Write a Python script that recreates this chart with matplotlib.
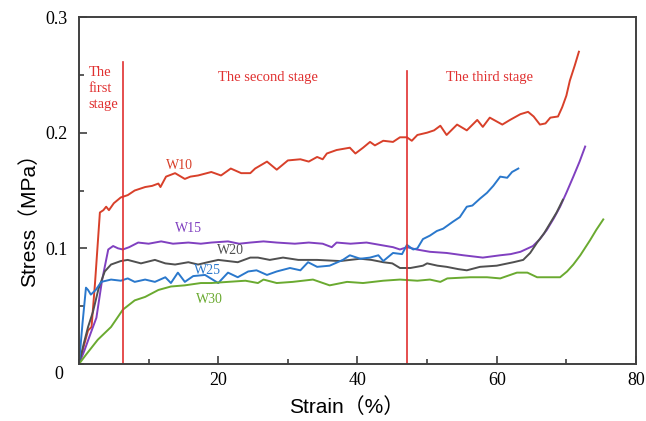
import matplotlib.pyplot as plt
from matplotlib.ticker import MultipleLocator

# strain (%) / stress (MPa)
w10_x = [0, 0.8, 1.3, 1.8, 2.3, 3.0, 3.5, 3.9, 4.3, 5.0, 6.0, 7.0, 8.0, 9.5, 10.5, 11.4, 11.7, 12.5,
         13.8, 15.2, 16.0, 17.1, 19.0, 20.4, 21.8, 23.3, 24.6, 25.3, 27.0, 28.4, 30.0, 31.8, 33.0,
         34.2, 35.0, 35.6, 37.0, 38.9, 39.7, 40.8, 41.8, 42.5, 43.7, 45.1, 46.1, 47.1, 47.8, 48.6,
         50.0, 51.0, 51.9, 52.8, 54.3, 55.7, 57.2, 58.0, 59.0, 60.8, 61.9, 63.4, 64.5, 65.3, 66.2,
         67.0, 67.7, 68.8, 69.4, 70.0, 70.5, 71.2, 71.8]
w10_y = [0, 0.018, 0.029, 0.032, 0.070, 0.131, 0.133, 0.136, 0.133, 0.139, 0.144, 0.146, 0.150,
         0.153, 0.154, 0.156, 0.153, 0.162, 0.165, 0.160, 0.162, 0.163, 0.166, 0.163, 0.169, 0.165,
         0.165, 0.169, 0.175, 0.168, 0.176, 0.177, 0.175, 0.179, 0.177, 0.182, 0.185, 0.187, 0.182,
         0.187, 0.192, 0.189, 0.193, 0.192, 0.196, 0.196, 0.193, 0.198, 0.200, 0.202, 0.206, 0.198,
         0.207, 0.202, 0.211, 0.205, 0.213, 0.207, 0.211, 0.216, 0.218, 0.214, 0.207, 0.208, 0.213,
         0.214, 0.222, 0.232, 0.245, 0.258, 0.270]

w15_x = [0, 0.8, 1.7, 2.5, 3.3, 4.2, 4.9, 5.6, 6.3, 7.2, 8.5, 10.0, 11.8, 13.5, 15.7, 17.5, 19.0,
         21.4, 23.0, 24.6, 26.5, 28.4, 31.0, 33.0, 35.0, 36.3, 37.0, 39.0, 41.3, 43.2, 45.1, 46.1,
         47.1, 48.5, 50.4, 52.8, 55.2, 58.0, 60.5, 62.0, 63.4, 65.2, 66.2, 67.2, 68.2, 69.1, 70.0,
         71.0, 71.9, 72.7]
w15_y = [0, 0.012, 0.027, 0.040, 0.072, 0.099, 0.102, 0.100, 0.099, 0.101, 0.105, 0.104, 0.106,
         0.104, 0.105, 0.104, 0.105, 0.106, 0.104, 0.105, 0.106, 0.105, 0.104, 0.105, 0.104, 0.101,
         0.105, 0.104, 0.105, 0.103, 0.101, 0.099, 0.101, 0.099, 0.097, 0.096, 0.094, 0.092, 0.094,
         0.095, 0.097, 0.102, 0.108, 0.116, 0.126, 0.136, 0.148, 0.162, 0.175, 0.188]

w20_x = [0, 0.7, 1.3, 2.0, 2.8, 3.7, 4.6, 6.0, 7.0, 8.9, 10.9, 12.4, 13.8, 15.7, 17.1, 18.5, 20.0,
         22.8, 24.6, 25.7, 27.4, 29.3, 31.5, 34.2, 37.5, 40.4, 42.0, 43.7, 45.0, 46.1, 47.6, 49.4,
         50.0, 51.5, 52.8, 54.5, 55.7, 57.6, 60.0, 62.4, 63.8, 64.8, 65.8, 66.8, 67.7, 68.6, 69.5]
w20_y = [0, 0.018, 0.032, 0.045, 0.065, 0.080, 0.086, 0.089, 0.090, 0.087, 0.090, 0.087, 0.086,
         0.088, 0.086, 0.088, 0.090, 0.088, 0.092, 0.092, 0.090, 0.092, 0.090, 0.090, 0.089, 0.091,
         0.090, 0.088, 0.087, 0.083, 0.083, 0.085, 0.087, 0.085, 0.084, 0.082, 0.081, 0.084, 0.085,
         0.088, 0.090, 0.096, 0.105, 0.113, 0.122, 0.131, 0.142]

w25_x = [0, 0.5, 1.0, 1.3, 1.7, 2.4, 3.2, 4.6, 6.0, 7.0, 8.0, 9.5, 10.9, 12.4, 13.2, 14.2, 15.2,
         16.4, 18.1, 20.0, 21.4, 22.8, 24.3, 25.5, 27.0, 28.4, 30.3, 31.8, 32.9, 34.2, 36.0, 37.9,
         38.9, 40.4, 41.8, 43.0, 43.7, 45.1, 46.4, 47.1, 48.0, 48.6, 49.4, 50.4, 51.4, 52.3, 53.7,
         54.7, 55.7, 56.5, 57.6, 58.6, 59.5, 60.5, 61.5, 62.2, 63.1]
w25_y = [0, 0.035, 0.066, 0.064, 0.060, 0.064, 0.071, 0.073, 0.072, 0.074, 0.071, 0.073, 0.071,
         0.075, 0.070, 0.079, 0.071, 0.076, 0.077, 0.070, 0.079, 0.075, 0.080, 0.081, 0.077, 0.080,
         0.083, 0.081, 0.088, 0.084, 0.085, 0.090, 0.094, 0.091, 0.092, 0.094, 0.089, 0.096, 0.095,
         0.103, 0.099, 0.100, 0.108, 0.111, 0.115, 0.117, 0.123, 0.127, 0.136, 0.137, 0.143, 0.148,
         0.154, 0.162, 0.161, 0.166, 0.169]

w30_x = [0, 1.0, 2.7, 4.6, 6.3, 8.0, 9.5, 11.4, 13.2, 15.2, 17.5, 19.0, 21.4, 23.9, 25.7, 26.5,
         28.4, 30.7, 33.6, 36.0, 38.5, 40.8, 43.7, 46.1, 48.6, 50.4, 51.9, 52.9, 56.2, 58.6, 60.5,
         62.9, 64.4, 65.8, 69.1, 70.1, 71.0, 72.0, 73.4, 74.3, 75.3]
w30_y = [0, 0.008, 0.021, 0.032, 0.047, 0.055, 0.058, 0.064, 0.067, 0.068, 0.070, 0.070, 0.071,
         0.072, 0.070, 0.073, 0.070, 0.071, 0.073, 0.068, 0.071, 0.070, 0.072, 0.073, 0.072, 0.073,
         0.071, 0.074, 0.075, 0.075, 0.074, 0.079, 0.079, 0.075, 0.075, 0.080, 0.086, 0.094, 0.107,
         0.116, 0.125]

series = [
    ("W10", w10_x, w10_y, "#d8402a", 14.4, 0.172),
    ("W15", w15_x, w15_y, "#8040c0", 15.7, 0.117),
    ("W20", w20_x, w20_y, "#505050", 21.8, 0.0985),
    ("W25", w25_x, w25_y, "#2a78cc", 18.5, 0.081),
    ("W30", w30_x, w30_y, "#6aaa30", 18.8, 0.056),
]

stage_x = [6.3, 47.1]
stage_top = [0.261, 0.253]

fig = plt.figure(figsize=(6.46, 4.21), dpi=100)
ax = fig.add_axes([0.1223, 0.1354, 0.8622, 0.8242])

for name, xs, ys, col, lx, ly in series:
    ax.plot(xs, ys, color=col, lw=1.4)
    ax.text(lx, ly, name, color=col, fontsize=10, family="Liberation Serif",
            ha="center", va="center")

red = "#e03030"
for sx, top in zip(stage_x, stage_top):
    ax.plot([sx, sx], [0, top], color=red, lw=1.2)

ax.text(1.4, 0.258, "The\nfirst\nstage", color=red, fontsize=10.5,
        family="Liberation Serif", ha="left", va="top", linespacing=1.3)
ax.text(27.2, 0.248, "The second stage", color=red, fontsize=10.5,
        family="Liberation Serif", ha="center", va="center")
ax.text(58.9, 0.248, "The third stage", color=red, fontsize=10.5,
        family="Liberation Serif", ha="center", va="center")

ax.set_xlim(0, 80)
ax.set_ylim(0, 0.3)
ax.set_xticks([20, 40, 60, 80])
ax.set_yticks([0.1, 0.2, 0.3])
ax.set_yticklabels(["0.1", "0.2", "0.3"])
ax.xaxis.set_minor_locator(MultipleLocator(10))
ax.yaxis.set_minor_locator(MultipleLocator(0.05))
ax.tick_params(which="major", direction="in", length=6, width=1.2, color="#404040",
               labelsize=13, pad=6)
ax.tick_params(axis="y", which="major", pad=8)
ax.tick_params(which="minor", direction="in", length=3.5, width=1.2, color="#404040")
for lab in ax.get_xticklabels() + ax.get_yticklabels():
    lab.set_family("Liberation Serif")
ax.text(-2.3, -0.0095, "0", fontsize=13, family="Liberation Serif", ha="right", va="center")

for sp in ax.spines.values():
    sp.set_color("#404040")
    sp.set_linewidth(1.4)

ax.set_xlabel("Strain（%）", fontsize=15, family=["Liberation Sans", "Noto Sans CJK SC"])
ax.set_ylabel("Stress（MPa）", fontsize=15, family=["Liberation Sans", "Noto Sans CJK SC"])
ax.xaxis.set_label_coords(0.48, -0.095)
ax.yaxis.set_label_coords(-0.072, 0.43)

plt.savefig("out.png", dpi=100)
